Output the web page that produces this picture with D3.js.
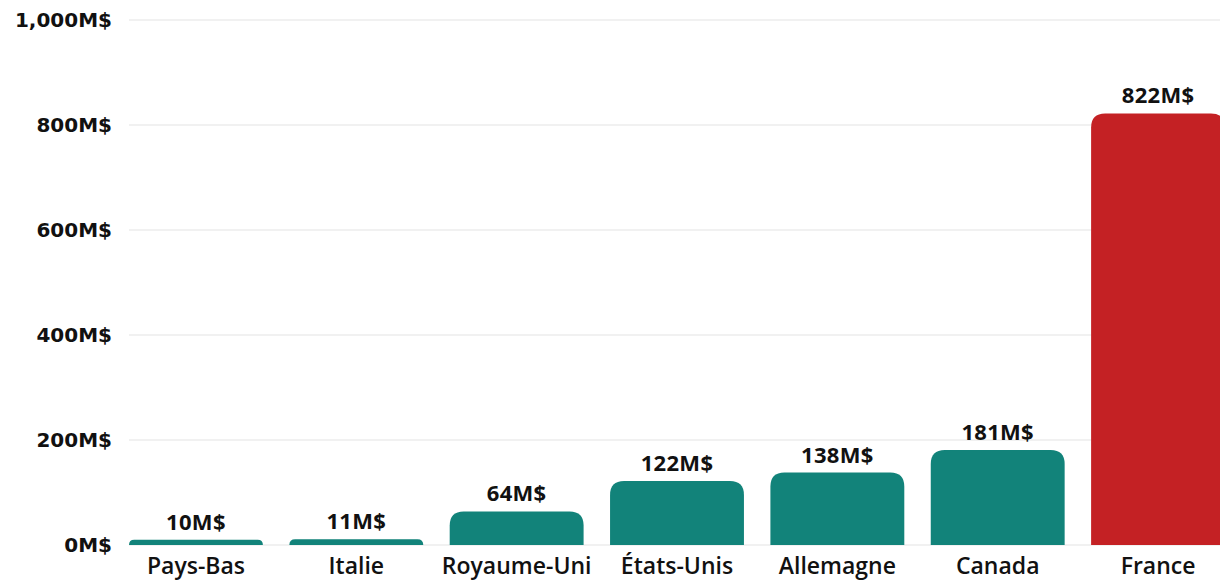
<!DOCTYPE html>
<html>
<head>
<meta charset="utf-8">
<script src="https://cdn.jsdelivr.net/npm/d3@7"></script>
<style>
  body { margin: 0; background: #fff; }
  text { font-family: "Open Sans", "Lato", sans-serif; }
  .y-axis text { font-family: "DejaVu Sans", sans-serif; }
</style>
</head>
<body>
<div id="chart"></div>
<script>
  // data
  const countries = ["Pays-Bas", "Italie", "Royaume-Uni", "États-Unis", "Allemagne", "Canada", "France"];
  const amounts = [10, 11, 64, 122, 138, 181, 822];
  const highlight = "France";
  const yTicks = [0, 200, 400, 600, 800, 1000];

  const width = 1220, height = 581;
  const margin = { top: 20, bottom: 36, left: 129, right: -5 };

  const data = countries.map((c, i) => ({ country: c, value: amounts[i] }));

  const svg = d3.select("#chart")
    .append("svg")
    .attr("width", width)
    .attr("height", height);

  const xScale = d3.scaleBand()
    .domain(countries)
    .range([margin.left, width - margin.right])
    .paddingInner(0.165)
    .paddingOuter(0);

  const yScale = d3.scaleLinear()
    .domain([0, 1000])
    .range([height - margin.bottom, margin.top]);

  // grid
  svg.append("g")
    .selectAll("line")
    .data(yTicks)
    .join("line")
    .attr("x1", margin.left)
    .attr("x2", width)
    .attr("y1", d => yScale(d))
    .attr("y2", d => yScale(d))
    .attr("stroke", "#e3e3e3")
    .attr("stroke-width", 1);

  const fmt = d3.format(",");

  // y axis
  const yAxis = d3.axisLeft(yScale)
    .tickValues(yTicks)
    .tickSize(0)
    .tickPadding(17)
    .tickFormat(d => fmt(d) + "M$");

  svg.append("g")
    .attr("class", "y-axis")
    .attr("transform", `translate(${margin.left},0)`)
    .call(yAxis)
    .call(g => g.select(".domain").remove())
    .call(g => g.selectAll("text")
      .attr("font-size", 20)
      .attr("font-weight", 700)
      .attr("fill", "#111"));

  // bars with rounded top
  const r = 14;
  function barPath(d) {
    const x0 = xScale(d.country), w = xScale.bandwidth();
    const y0 = yScale(d.value), yb = yScale(0);
    const rr = Math.min(r, (yb - y0), w / 2);
    return `M${x0},${yb} V${y0 + rr} Q${x0},${y0} ${x0 + rr},${y0} H${x0 + w - rr} Q${x0 + w},${y0} ${x0 + w},${y0 + rr} V${yb} Z`;
  }

  svg.append("g")
    .selectAll("path")
    .data(data)
    .join("path")
    .attr("d", barPath)
    .attr("fill", d => d.country === highlight ? "#c42124" : "#12837a");

  // value labels
  svg.append("g")
    .selectAll("text")
    .data(data)
    .join("text")
    .attr("x", d => xScale(d.country) + xScale.bandwidth() / 2)
    .attr("y", d => yScale(d.value) - 10)
    .attr("text-anchor", "middle")
    .attr("font-size", 22)
    .attr("font-weight", 700)
    .attr("letter-spacing", 0.3)
    .attr("fill", "#111")
    .text(d => d.value + "M$");

  // x axis
  const xAxis = d3.axisBottom(xScale).tickSize(0).tickPadding(13);
  svg.append("g")
    .attr("class", "x-axis")
    .attr("transform", `translate(0,${height - margin.bottom})`)
    .call(xAxis)
    .call(g => g.select(".domain").remove())
    .call(g => g.selectAll("text")
      .attr("font-size", 23)
      .attr("font-weight", 600)
      .attr("fill", "#111"));
</script>
</body>
</html>
